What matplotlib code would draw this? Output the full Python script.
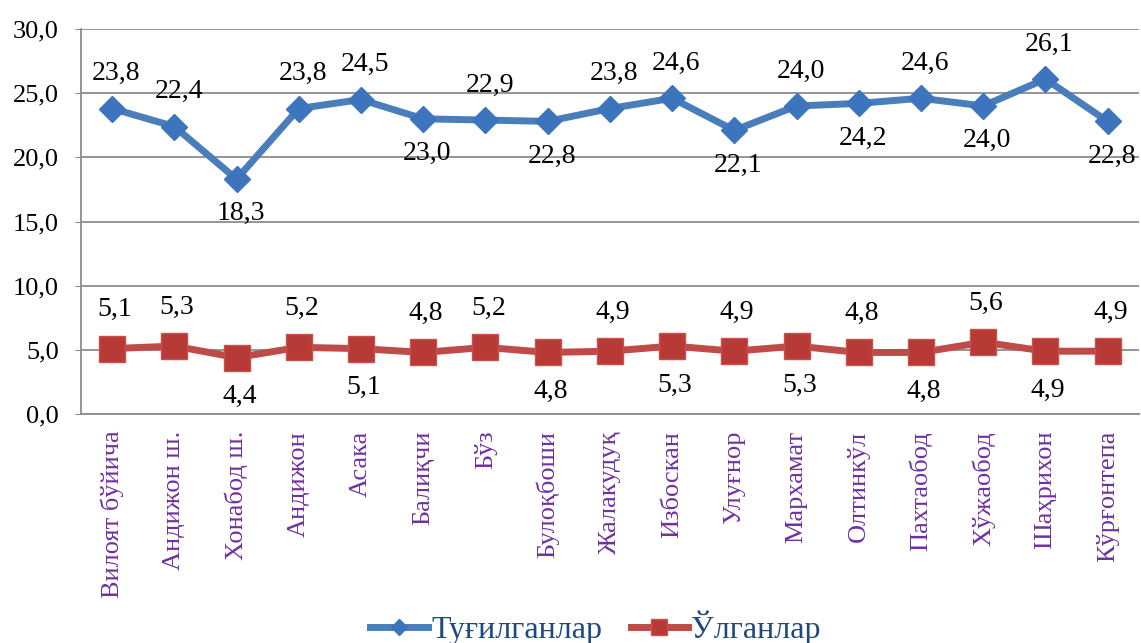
import numpy as np
import matplotlib
matplotlib.use('Agg')
import matplotlib.pyplot as plt
from matplotlib.ticker import FuncFormatter

plt.rcParams['font.family'] = ['Liberation Serif', 'DejaVu Serif']

# данные
districts = ["Вилоят бўйича", "Андижон ш.", "Хонабод ш.", "Андижон", "Асака",
             "Балиқчи", "Бўз", "Булоқбоши", "Жалакудуқ", "Избоскан", "Улуғнор",
             "Мархамат", "Олтинкўл", "Пахтаобод", "Хўжаобод", "Шаҳрихон", "Кўрғонтепа"]
births = [23.8, 22.4, 18.3, 23.8, 24.5, 23.0, 22.9, 22.8, 23.8, 24.6, 22.1,
          24.0, 24.2, 24.6, 24.0, 26.1, 22.8]
deaths = [5.1, 5.3, 4.4, 5.2, 5.1, 4.8, 5.2, 4.8, 4.9, 5.3, 4.9,
          5.3, 4.8, 4.8, 5.6, 4.9, 4.9]
# 1 = подпись сверху, -1 = снизу
births_side = [1, 1, -1, 1, 1, -1, 1, -1, 1, 1, -1, 1, -1, 1, -1, 1, -1]
deaths_side = [1, 1, -1, 1, -1, 1, 1, -1, 1, -1, 1, -1, 1, -1, 1, -1, 1]

blue = '#4A7EBB'
red = '#BE4B48'

fig = plt.figure(figsize=(11.41, 6.43), dpi=100)
ax = fig.add_axes([0.071, 0.356, 0.927, 0.599])

x = np.arange(len(districts))
ax.plot(x, births, color=blue, lw=5, marker='D', markersize=13,
        markerfacecolor='#3C74BE', markeredgecolor='#3C74BE', label='Туғилганлар',
        solid_joinstyle='round', zorder=3)
ax.plot(x, deaths, color=red, lw=5, marker='s', markersize=19,
        markerfacecolor='#B83A36', markeredgecolor='#C9504C', markeredgewidth=1,
        label='Ўлганлар', solid_joinstyle='round', zorder=3)

def fmt(v):
    return ('%.1f' % v).replace('.', ',')

for xi, v, s in zip(x, births, births_side):
    ax.annotate(fmt(v), (xi, v), xytext=(3, 25 * s), textcoords='offset points',
                ha='center', va='center', fontsize=20, color='black')
for xi, v, s in zip(x, deaths, deaths_side):
    ax.annotate(fmt(v), (xi, v), xytext=(2, 28 * s), textcoords='offset points',
                ha='center', va='center', fontsize=20, color='black')

ax.set_xlim(-0.5, len(districts) - 0.5)
ax.set_ylim(0, 30)
ax.set_yticks(np.arange(0, 31, 5))
ax.yaxis.set_major_formatter(FuncFormatter(lambda v, p: fmt(v)))
ax.yaxis.grid(True, color='#8C8C8C', lw=1.3)
ax.set_axisbelow(True)

ax.set_xticks(x)
ax.set_xticklabels(districts, rotation=90, color='#7030A0', fontsize=19)
ax.tick_params(axis='x', length=0, pad=12)
ax.tick_params(axis='y', length=4, color='#8C8C8C', labelsize=19, pad=12)

for side in ['top', 'right']:
    ax.spines[side].set_visible(False)
for side in ['left', 'bottom']:
    ax.spines[side].set_color('#8C8C8C')
    ax.spines[side].set_linewidth(1.3)

leg = fig.legend(loc='lower center', bbox_to_anchor=(0.522, -0.048), ncol=2,
                 frameon=False, fontsize=23, handlelength=1.8, handletextpad=0.1,
                 columnspacing=0.9, markerscale=0.6)
for t in leg.get_texts():
    t.set_color('#1F497D')

fig.savefig('out.png', dpi=100)
